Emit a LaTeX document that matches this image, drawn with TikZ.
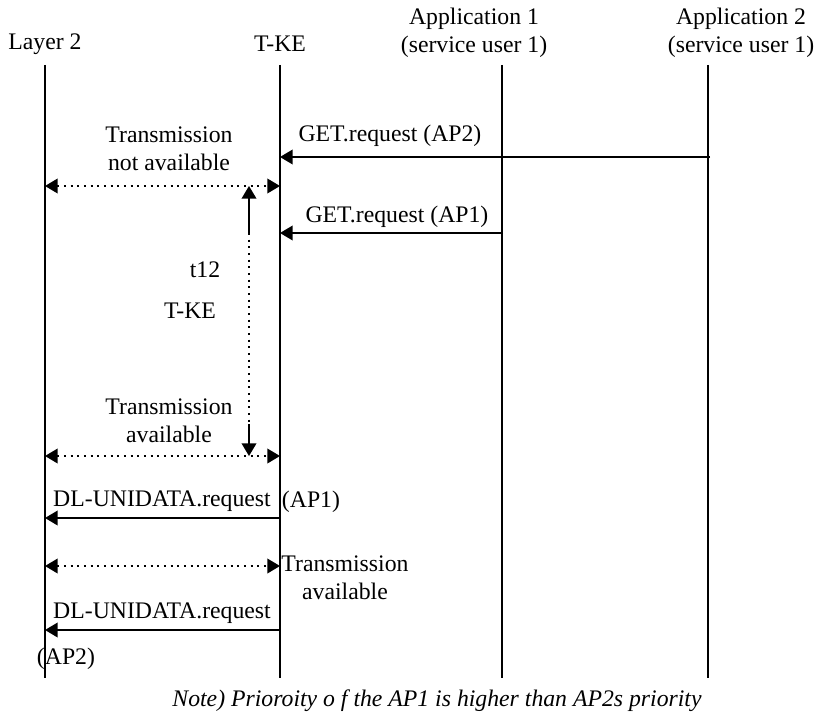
\documentclass[tikz,border=0pt]{standalone}
\usepackage{fontspec}
\setmainfont{Liberation Serif}
\usetikzlibrary{arrows.meta}
\begin{document}
\begin{tikzpicture}[x=0.75pt,y=-0.75pt,
  lbl/.style={inner sep=0pt,font=\fontsize{17.8}{21}\selectfont,align=center},
  life/.style={line width=1.2pt},
  tip/.style={},
  msg/.style={line width=1.2pt,-{Triangle[length=9.5pt,width=11pt]}},
  dmsg/.style={line width=1.2pt,dash pattern=on 1.5pt off 3.5pt,{Triangle[length=9.5pt,width=11pt]}-{Triangle[length=9.5pt,width=11pt]}},
]
\useasboundingbox (0,0) rectangle (817,713);
% headers
\node[lbl] (hL2) at (45,44) {Layer 2};
\node[lbl] (hTK) at (280,44) {T-KE};
\node[lbl] (hA1) at (474,33) {Application 1\\(service user 1)};
\node[lbl] (hA2) at (741,33) {Application 2\\(service user 1)};
% lifelines
\coordinate (L2t) at (45,65);  \coordinate (L2b) at (45,678);
\coordinate (TKt) at (280,65); \coordinate (TKb) at (280,678);
\coordinate (A1t) at (502,65); \coordinate (A1b) at (502,678);
\coordinate (A2t) at (708,65); \coordinate (A2b) at (708,678);
\draw[life] (L2t) -- (L2b);
\draw[life] (TKt) -- (TKb);
\draw[life] (A1t) -- (A1b);
\draw[life] (A2t) -- (A2b);
% GET.request (AP2)
\coordinate (g2s) at (710,157); \coordinate (g2e) at (280,157);
\draw[msg] (g2s) -- (g2e);
\node[lbl] (tg2) at (390,136) {GET.request (AP2)};
% Transmission not available
\node[lbl] (tna) at (169,149) {Transmission\\not available};
\coordinate (na1) at (45,186); \coordinate (na2) at (280,186);
\draw[dmsg] (na1) -- (na2);
% GET.request (AP1)
\coordinate (g1s) at (503,233); \coordinate (g1e) at (280,233);
\draw[msg] (g1s) -- (g1e);
\node[lbl] (tg1) at (397,217) {GET.request (AP1)};
% t12 timer
\coordinate (t12a) at (249,186); \coordinate (t12b) at (249,233);
\coordinate (t12c) at (249,424); \coordinate (t12d) at (249,456);
\draw[msg] (t12b) -- (t12a);
\draw[line width=1.2pt,dash pattern=on 1.5pt off 3.5pt] (t12b) -- (t12c);
\draw[msg] (t12c) -- (t12d);
\node[lbl] (tt12) at (205,270) {t12};
\node[lbl] (ttke) at (190,311) {T-KE};
% Transmission available
\node[lbl] (tav) at (169,421) {Transmission\\available};
\coordinate (av1) at (45,456); \coordinate (av2) at (280,456);
\draw[dmsg] (av1) -- (av2);
% DL-UNIDATA.request (AP1)
\coordinate (d1s) at (280,518); \coordinate (d1e) at (45,518);
\draw[msg] (d1s) -- (d1e);
\node[lbl] (td1) at (162,501) {DL-UNIDATA.request};
\node[lbl] (tap1) at (311,502) {(AP1)};
% Transmission available 2
\coordinate (av3) at (45,566); \coordinate (av4) at (280,566);
\draw[dmsg] (av3) -- (av4);
\node[lbl] (tav2) at (345,578) {Transmission\\available};
% DL-UNIDATA.request (AP2)
\coordinate (d2s) at (280,630); \coordinate (d2e) at (45,630);
\draw[msg] (d2s) -- (d2e);
\node[lbl] (td2) at (162,613) {DL-UNIDATA.request};
\node[lbl] (tap2) at (66,659) {(AP2)};
% note
\node[lbl,font=\fontsize{17.8}{21}\selectfont\itshape] (note) at (437,701) {Note) Prioroity o f the AP1 is higher than AP2s priority};
\end{tikzpicture}
\end{document}
